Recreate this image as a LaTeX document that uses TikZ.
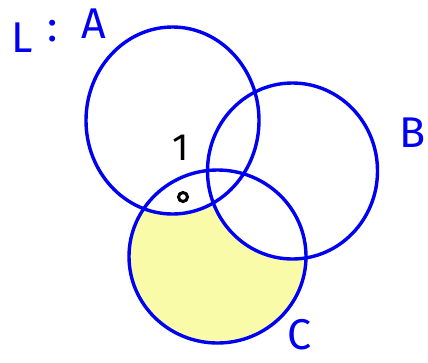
\documentclass[tikz,border=0pt]{standalone}
\usepackage{fontspec}
\setmainfont{Fira Sans}
\usetikzlibrary{positioning}
\definecolor{pen}{HTML}{0000F2}
\definecolor{lemon}{HTML}{F9FBA8}
\tikzset{
  ring/.style={draw=pen, line width=3.4pt},
  lab/.style={text=pen, inner sep=0pt, font=\fontsize{43}{43}\selectfont},
  mark1/.style={text=black, inner sep=0pt, font=\fontsize{38}{38}\selectfont},
}

\begin{document}
\begin{tikzpicture}[x=1pt, y=-1pt]
    \useasboundingbox (0,0) rectangle (428,362);
    % region C outside A and B
    \fill[lemon] (217.5,256.5) ellipse [x radius=88.5, y radius=86.5];
    \fill[white] (172.5,120.5) ellipse [x radius=86.5, y radius=93.5];
    \fill[white] (292.5,171) ellipse [x radius=85, y radius=88];
    \draw[ring] (172.5,120.5) ellipse [x radius=86.5, y radius=93.5];
    \draw[ring] (292.5,171) ellipse [x radius=85, y radius=88];
    \draw[ring] (217.5,256.5) ellipse [x radius=88.5, y radius=86.5];
    \node[lab] (l) at (22.5,38) {L};
    \node[lab] (colon) at (53,31) {:};
    \node[lab] (a) at (93.5,24) {A};
    \node[lab] (b) at (413,133) {B};
    \node[lab] (c) at (300,335) {C};
    \node[mark1] (one) at (181,148) {1};
    \node[circle, draw=black, line width=3pt, fill=white, minimum size=9pt, inner sep=0pt] (pt) at (183,197) {};
  \end{tikzpicture}
\end{document}
